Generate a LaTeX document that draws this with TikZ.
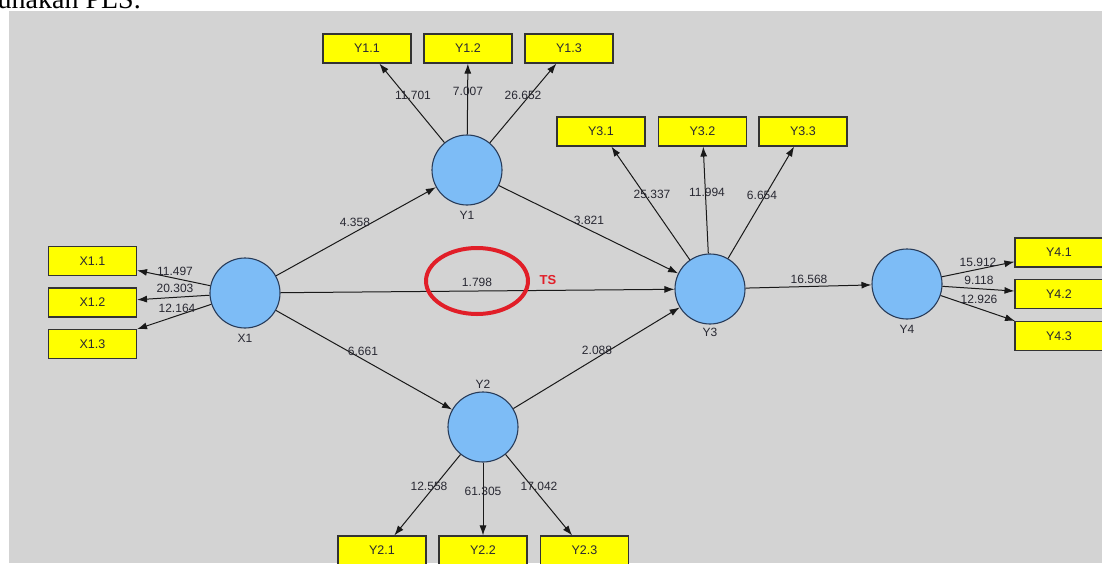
\documentclass[tikz,border=0pt]{standalone}
\usepackage{fontspec}
\setmainfont{Liberation Sans}
\newfontfamily\serifpage{Liberation Serif}
\usetikzlibrary{arrows.meta}
\definecolor{bg}{RGB}{211,211,211}
\definecolor{lv}{RGB}{125,188,246}
\definecolor{lvborder}{RGB}{40,60,90}
\definecolor{ind}{RGB}{255,255,0}
\definecolor{txt}{RGB}{40,40,50}
\definecolor{markred}{RGB}{225,30,40}
\begin{document}
\begin{tikzpicture}[x=1pt,y=-1pt,
 latent/.style={circle,draw=lvborder,fill=lv,line width=1.1pt,minimum size=70pt,inner sep=0pt},
 indbox/.style={rectangle,draw=black!80,fill=ind,line width=1.1pt,minimum width=88pt,minimum height=29pt,inner sep=0pt,font=\fontsize{12.5}{14}\selectfont,text=txt},
 lab/.style={font=\fontsize{12}{14}\selectfont,text=txt,inner sep=0pt},
 arr/.style={draw=black!90,line width=1pt,-{Latex[length=10pt,width=7pt]}}]

\useasboundingbox (0,0) rectangle (1102,563);
\fill[bg] (9,11) rectangle (1102,563);
\node[font=\serifpage\fontsize{28}{30}\selectfont,anchor=base east,inner sep=0pt] (top) at (141,8) {unakan PLS.};

% latent variables
\node[latent] (X1) at (245,293) {};
\node[latent] (Y1) at (467,170) {};
\node[latent] (Y2) at (483,427) {};
\node[latent] (Y3) at (710,289) {};
\node[latent] (Y4) at (907,284) {};
\node[lab] (lX1) at (245,338) {X1};
\node[lab] (lY1) at (467,215) {Y1};
\node[lab] (lY2) at (483,384) {Y2};
\node[lab] (lY3) at (710,332) {Y3};
\node[lab] (lY4) at (907,329) {Y4};

% indicators
\node[indbox] (X11) at (92.5,261) {X1.1};
\node[indbox] (X12) at (92.5,302.5) {X1.2};
\node[indbox] (X13) at (92.5,344) {X1.3};
\node[indbox] (Y11) at (367,48.5) {Y1.1};
\node[indbox] (Y12) at (468,48.5) {Y1.2};
\node[indbox] (Y13) at (569,48.5) {Y1.3};
\node[indbox] (Y31) at (601,131.5) {Y3.1};
\node[indbox] (Y32) at (702.5,131.5) {Y3.2};
\node[indbox] (Y33) at (803,131.5) {Y3.3};
\node[indbox] (Y41) at (1059,252.5) {Y4.1};
\node[indbox] (Y42) at (1059,294) {Y4.2};
\node[indbox] (Y43) at (1059,336) {Y4.3};
\node[indbox] (Y21) at (382,550.5) {Y2.1};
\node[indbox] (Y22) at (483,550.5) {Y2.2};
\node[indbox] (Y23) at (584.5,550.5) {Y2.3};

% structural paths
\draw[arr] (X1) -- (Y1);
\draw[arr] (X1) -- (Y3);
\draw[arr] (X1) -- (Y2);
\draw[arr] (Y1) -- (Y3);
\draw[arr] (Y2) -- (Y3);
\draw[arr] (Y3) -- (Y4);

% outer loadings
\draw[arr] (X1) -- (X11);
\draw[arr] (X1) -- (X12);
\draw[arr] (X1) -- (X13);
\draw[arr] (Y1) -- (Y11);
\draw[arr] (Y1) -- (Y12);
\draw[arr] (Y1) -- (Y13);
\draw[arr] (Y3) -- (Y31);
\draw[arr] (Y3) -- (Y32);
\draw[arr] (Y3) -- (Y33);
\draw[arr] (Y4) -- (Y41);
\draw[arr] (Y4) -- (Y42);
\draw[arr] (Y4) -- (Y43);
\draw[arr] (Y2) -- (Y21);
\draw[arr] (Y2) -- (Y22);
\draw[arr] (Y2) -- (Y23);

% path labels
\node[lab] (t1) at (355,222) {4.358};
\node[lab] (t2) at (589,220) {3.821};
\node[lab] (t3) at (477,282) {1.798};
\node[lab] (t4) at (363,351) {6.661};
\node[lab] (t5) at (597,350) {2.088};
\node[lab] (t6) at (809,279) {16.568};
\node[lab] (t7) at (175,271) {11.497};
\node[lab] (t8) at (175,288) {20.303};
\node[lab] (t9) at (177,308) {12.164};
\node[lab] (t10) at (413,95) {11.701};
\node[lab] (t11) at (468,91) {7.007};
\node[lab] (t12) at (523,95) {26.652};
\node[lab] (t13) at (652,194) {25.337};
\node[lab] (t14) at (707,192) {11.994};
\node[lab] (t15) at (762,195) {6.654};
\node[lab] (t16) at (978,262) {15.912};
\node[lab] (t17) at (979,280) {9.118};
\node[lab] (t18) at (979,299) {12.926};
\node[lab] (t19) at (429,486) {12.558};
\node[lab] (t20) at (483,491) {61.305};
\node[lab] (t21) at (539,486) {17.042};

% highlight
\draw[markred,line width=4pt] (477,281) ellipse [x radius=51pt,y radius=33pt];
\node[font=\bfseries\fontsize{13}{15}\selectfont,text=markred,inner sep=0pt] (ts) at (548,280) {TS};
\end{tikzpicture}
\end{document}
